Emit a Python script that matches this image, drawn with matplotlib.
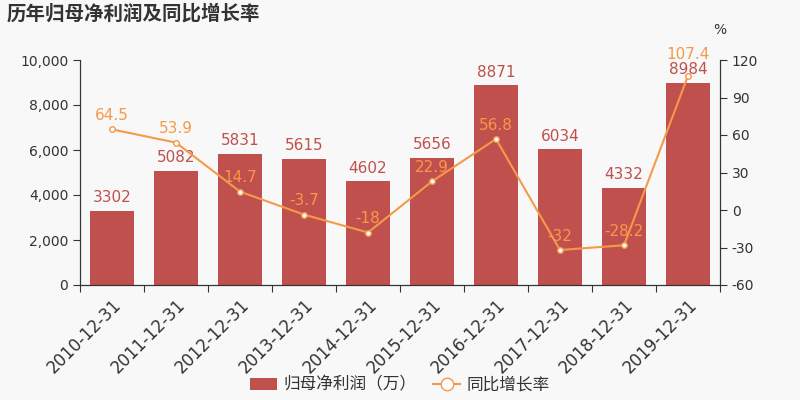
import matplotlib.pyplot as plt
from matplotlib.lines import Line2D
from matplotlib.patches import Patch

plt.rcParams['font.family'] = ['DejaVu Sans', 'Noto Sans CJK SC']
plt.rcParams['axes.unicode_minus'] = False

dates = ['2010-12-31', '2011-12-31', '2012-12-31', '2013-12-31', '2014-12-31',
         '2015-12-31', '2016-12-31', '2017-12-31', '2018-12-31', '2019-12-31']
profit = [3302, 5082, 5831, 5615, 4602, 5656, 8871, 6034, 4332, 8984]
growth = [64.5, 53.9, 14.7, -3.7, -18, 22.9, 56.8, -32, -28.2, 107.4]

bar_color = '#c0504d'
line_color = '#f5994a'
text_color = '#333333'
bg = '#f8f8f8'
cjk = ['Noto Sans CJK SC', 'DejaVu Sans']

fig = plt.figure(figsize=(8, 4), dpi=100, facecolor=bg)
ax = fig.add_axes([0.1, 0.2875, 0.8, 0.5625], facecolor=bg)
x = range(len(dates))
ax.bar(x, profit, width=0.69, color=bar_color, zorder=2)
ax.set_xlim(-0.5, len(dates) - 0.5)
ax.set_ylim(0, 10000)
ax.set_yticks(range(0, 10001, 2000))
ax.set_yticklabels([f'{v:,}' for v in range(0, 10001, 2000)])
for i, v in enumerate(profit):
    ax.text(i, v + 250, str(v), ha='center', va='bottom', color=bar_color, fontsize=11)

ax.set_xticks([i - 0.5 for i in range(len(dates) + 1)])
ax.set_xticklabels([])
ax.set_xticks(list(x), minor=True)
ax.set_xticklabels(dates, minor=True, rotation=45, ha='right', rotation_mode='anchor',
                   fontsize=12, color=text_color)
ax.tick_params(axis='x', which='minor', length=0, pad=8)
ax.tick_params(axis='x', which='major', length=5, color=text_color)
ax.tick_params(axis='y', labelsize=10, colors=text_color, length=5)

ax2 = ax.twinx()
ax2.plot(list(x), growth, color=line_color, lw=1.5, marker='o', ms=4,
         markerfacecolor='white', markeredgecolor=line_color, zorder=3)
ax2.set_ylim(-60, 120)
ax2.set_yticks(range(-60, 121, 30))
ax2.tick_params(axis='y', labelsize=10, colors=text_color, length=5)
for i, v in enumerate(growth):
    off = 11 if i == len(growth) - 1 else 5
    ax2.text(i, v + off, f'{v:g}', ha='center', va='bottom', color=line_color, fontsize=11)
ax2.text(1.0, 1.1, '%', transform=ax2.transAxes, ha='center', va='bottom',
         fontsize=10, color=text_color)

for a in (ax, ax2):
    a.spines['top'].set_visible(False)
    a.spines['left'].set_color(text_color)
    a.spines['right'].set_color(text_color)
    a.spines['bottom'].set_color(text_color)

fig.text(0.008, 0.965, '历年归母净利润及同比增长率', fontsize=14, fontweight='bold',
         color=text_color, va='center', family=cjk)

handles = [Patch(facecolor=bar_color, label='归母净利润（万）'),
           Line2D([0], [0], color=line_color, marker='o', markerfacecolor='white',
                  markeredgecolor=line_color, ms=9, label='同比增长率')]
fig.legend(handles=handles, loc='center', bbox_to_anchor=(0.5, 0.037), ncol=2,
           frameon=False, prop={'family': cjk, 'size': 12}, handlelength=1.6,
           handletextpad=0.4, columnspacing=1.0, labelcolor=text_color)

fig.savefig('out.png', dpi=100, facecolor=bg)
